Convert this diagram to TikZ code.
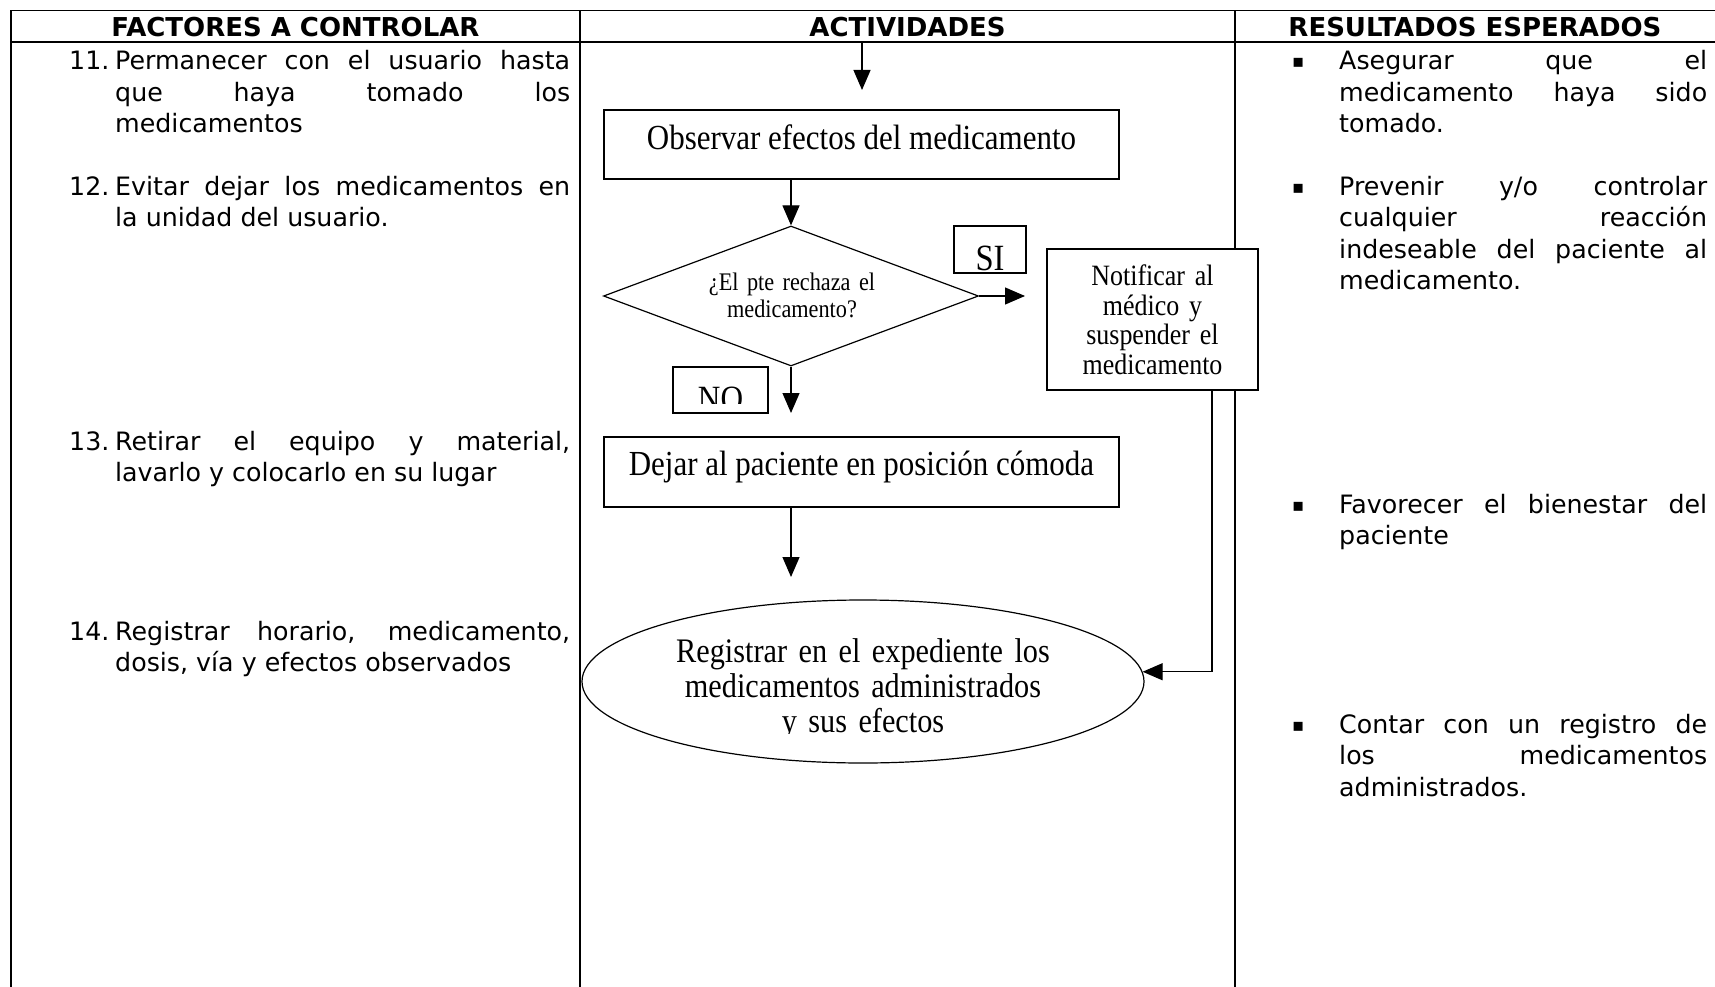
\documentclass[tikz,border=0pt]{standalone}
\usepackage{fontspec}
\setmainfont{DejaVu Sans}
\newfontfamily\tnr[FakeStretch=0.88]{Liberation Serif}
\usetikzlibrary{arrows.meta,shapes.geometric}
\tolerance=10000
\hbadness=10000
\hyphenpenalty=10000
\tikzset{
  tbl/.style={line width=1.7pt},
  fl/.style={line width=1.2pt},
  fbox/.style={draw, fl, fill=white, inner sep=0pt},
  arr/.style={fl, -{Triangle[length=20pt,width=17pt]}},
  hdr/.style={font=\fontsize{26}{31.4}\selectfont\bfseries, inner sep=0pt, anchor=base},
  num/.style={font=\fontsize{25.3}{31.4}\selectfont, inner sep=0pt, anchor=base west},
  itemL/.style={font=\fontsize{25.3}{31.4}\selectfont, inner sep=0pt, anchor=base west, text width=455pt, align=justify},
  itemR/.style={itemL, text width=368pt},
  bul/.style={font=\fontsize{18}{18}\selectfont, inner sep=0pt, anchor=base west},
  ser/.style={font=\tnr\fontsize{35.2}{35}\selectfont, inner sep=0pt},
}
\begin{document}
\begin{tikzpicture}[x=1pt,y=-1pt]
\useasboundingbox (0,0) rectangle (1715,987);
% table frame
\draw[tbl] (1715,10.5) -- (11,10.5) -- (11,987);
\draw[tbl] (11,42) -- (1715,42);
\draw[tbl] (580,10.5) -- (580,987);
\draw[tbl] (1235,10.5) -- (1235,987);
% headers
\node[hdr] (h1) at (295.5,36.5) {FACTORES A CONTROLAR};
\node[hdr] (h2) at (907.5,36.5) {ACTIVIDADES};
\node[hdr] (h3) at (1475,36.5) {RESULTADOS ESPERADOS};
% left column
\node[num] (n11) at (69,70) {11.};
\node[itemL] (t11) at (115,70) {Permanecer con el usuario hasta\linebreak que haya tomado los\linebreak medicamentos};
\node[num] (n12) at (69,195.5) {12.};
\node[itemL] (t12) at (115,195.5) {Evitar dejar los medicamentos en\linebreak la unidad del usuario.};
\node[num] (n13) at (69,450) {13.};
\node[itemL] (t13) at (115,450) {Retirar el equipo y material,\linebreak lavarlo y colocarlo en su lugar};
\node[num] (n14) at (69,640) {14.};
\node[itemL] (t14) at (115,640) {Registrar horario, medicamento,\linebreak dosis, vía y efectos observados};
% right column
\node[bul] (b1) at (1292,68) {▪};
\node[itemR] (r1) at (1339,70) {Asegurar que el\linebreak medicamento haya sido\linebreak tomado.};
\node[bul] (b2) at (1292,193.5) {▪};
\node[itemR] (r2) at (1339,195.5) {Prevenir y/o controlar\linebreak cualquier reacción\linebreak indeseable del paciente al\linebreak medicamento.};
\node[bul] (b3) at (1292,511) {▪};
\node[itemR] (r3) at (1339,513) {Favorecer el bienestar del\linebreak paciente};
\node[bul] (b4) at (1292,731.5) {▪};
\node[itemR] (r4) at (1339,733.5) {Contar con un registro de\linebreak los medicamentos\linebreak administrados.};
% flowchart
\coordinate (in0) at (862,42);
\coordinate (t0) at (862,90);
\draw[arr] (in0) -- (t0);
\node[fbox, ser, minimum width=515pt, text height=40pt, text depth=29pt, anchor=base] (obs) at (861.5,150) {Observar efectos del medicamento};
\node[diamond, draw, fl, fill=white, minimum width=375pt, minimum height=140pt, inner sep=0pt, aspect=2.68] (dec) at (791,296) {};
\node[inner sep=0pt, font=\tnr\fontsize{25.3}{27}\selectfont, anchor=base, text width=220pt, align=center] (dectxt) at (792,290.5) {¿El pte rechaza el\\medicamento?};
\draw[arr] (dec.north |- obs.south) -- (dec.north);
\coordinate (siend) at (1025,296);
\draw[arr] (dec.east) -- (siend);
\node[fbox, font=\tnr\fontsize{37}{40}\selectfont, minimum width=72pt, text height=44pt, text depth=3pt, anchor=base] (si) at (990,270) {SI};
\node[fbox, minimum width=211pt, minimum height=141pt] (notif) at (1152.5,319.5) {};
\node[inner sep=0pt, font=\tnr\fontsize{29.5}{29.5}\selectfont, anchor=base, text width=205pt, align=center] (notiftxt) at (1152.5,285.5) {Notificar al\\médico y\\suspender el\\medicamento};
\coordinate (noend) at (791,413);
\draw[arr] (dec.south) -- (noend);
\node[fbox, minimum width=95pt, minimum height=46pt] (nobox) at (720.5,390) {};
\begin{scope}
\clip (673,367) rectangle (768,403);
\node[inner sep=0pt, font=\tnr\fontsize{35.5}{40}\selectfont, anchor=base] (notxt) at (720.5,410) {NO};
\end{scope}
\node[fbox, ser, minimum width=515pt, text height=38pt, text depth=32pt, anchor=base] (dej) at (861.5,475) {Dejar al paciente en posición cómoda};
\coordinate (regend) at (791,577);
\draw[arr] (dec.south |- dej.south) -- (regend);
\node[ellipse, draw, fl, minimum width=562pt, minimum height=163pt, inner sep=0pt] (reg) at (863,681.5) {};
\begin{scope}
\clip (580,600) rectangle (1150,733.5);
\node[inner sep=0pt, font=\tnr\fontsize{34.4}{35}\selectfont, anchor=base, text width=520pt, align=center] (regtxt) at (863,662) {Registrar en el expediente los\\medicamentos administrados\\y sus efectos};
\end{scope}
\draw[arr] ([xshift=59.5pt]notif.south) |- (reg.2.3);
\end{tikzpicture}
\end{document}
